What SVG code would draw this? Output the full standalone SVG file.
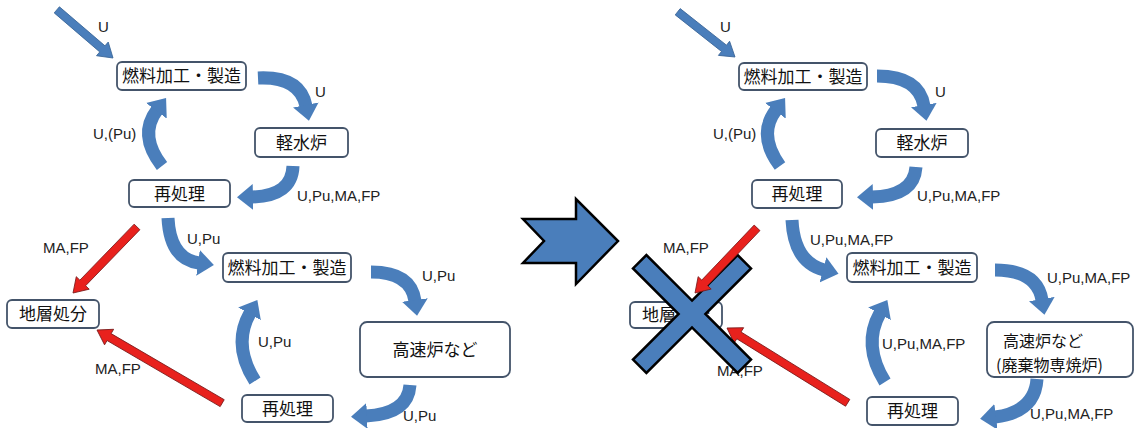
<svg xmlns="http://www.w3.org/2000/svg" width="1135" height="428" viewBox="0 0 1135 428">
<style>
.box{fill:#fff;stroke:#44546a;stroke-width:1.8}
.jt{font-family:"Noto Sans CJK JP","Noto Sans",sans-serif;font-size:17px;fill:#111;text-anchor:middle}
.jl{font-family:"Noto Sans CJK JP","Noto Sans",sans-serif;font-size:16px;fill:#111}
.lb{font-family:"Liberation Sans",Arial,sans-serif;font-size:15px;fill:#222}
.curve{fill:none;stroke:#4a7ebb;stroke-width:13;marker-end:url(#bh)}
.blue{fill:#4a7ebb;stroke:#3a6597;stroke-width:0.8}
.red{fill:#e8211d;stroke:#7a1a1a;stroke-width:0.8}
.shape{fill:#4a7ebb;stroke:#000;stroke-width:2.5;stroke-linejoin:miter}
</style>
<defs>
<marker id="bh" markerUnits="userSpaceOnUse" viewBox="0 0 16 26" markerWidth="16" markerHeight="26" refX="1" refY="13" orient="auto">
<path d="M0 0 L16 13 L0 26 Z" fill="#4a7ebb"/>
</marker>
</defs>
<rect width="1135" height="428" fill="#fff"/>

<g id="connectors">
<g transform="translate(113 58) rotate(40.6)"><polygon class="blue" points="-74,-4 -14,-4 -14,-9 0,0 -14,9 -14,4 -74,4"/></g>
<path class="curve" d="M258 78 Q300 76 306 106"/>
<path class="curve" d="M293 166 Q292 196 252 197"/>
<path class="curve" d="M162 166 Q138 135 157 110"/>
<path class="curve" d="M168 218 Q170 259 199 263"/>
<path class="curve" d="M371 272 Q411 272 415 301"/>
<path class="curve" d="M410 385 Q408 414 366 416"/>
<path class="curve" d="M255 381 Q232 345 250 313"/>
<g transform="translate(73 293) rotate(134.1)"><polygon class="red" points="-92,-4 -14,-4 -14,-9 0,0 -14,9 -14,4 -92,4"/></g>
<g transform="translate(97 330) rotate(-149.7)"><polygon class="red" points="-145,-4 -14,-4 -14,-9 0,0 -14,9 -14,4 -145,4"/></g>
<g transform="translate(735 57) rotate(38.3)"><polygon class="blue" points="-73,-4 -14,-4 -14,-9 0,0 -14,9 -14,4 -73,4"/></g>
<path class="curve" d="M877 76 Q919 76 924 106"/>
<path class="curve" d="M916 167 Q914 196 872 197"/>
<path class="curve" d="M780 166 Q757 135 776 110"/>
<path class="curve" d="M792 220 Q794 262 824 270"/>
<path class="curve" d="M995 270 Q1037 270 1042 300"/>
<path class="curve" d="M1037 379 Q1035 412 995 417"/>
<path class="curve" d="M885 382 Q862 345 880 313"/>
<g transform="translate(727 328) rotate(-148.2)"><polygon class="red" points="-142,-4 -14,-4 -14,-9 0,0 -14,9 -14,4 -142,4"/></g>
</g>

<g id="labels">
<text class="lb" x="98" y="32">U</text>
<text class="lb" x="315" y="97">U</text>
<text class="lb" x="93" y="139">U,(Pu)</text>
<text class="lb" x="297" y="201">U,Pu,MA,FP</text>
<text class="lb" x="43" y="253">MA,FP</text>
<text class="lb" x="187" y="244">U,Pu</text>
<text class="lb" x="422" y="281">U,Pu</text>
<text class="lb" x="258" y="347">U,Pu</text>
<text class="lb" x="95" y="374">MA,FP</text>
<text class="lb" x="403" y="421">U,Pu</text>

<text class="lb" x="720" y="32">U</text>
<text class="lb" x="935" y="97">U</text>
<text class="lb" x="713" y="139">U,(Pu)</text>
<text class="lb" x="917" y="201">U,Pu,MA,FP</text>
<text class="lb" x="810" y="245">U,Pu,MA,FP</text>
<text class="lb" x="1047" y="283">U,Pu,MA,FP</text>
<text class="lb" x="882" y="349">U,Pu,MA,FP</text>
<text class="lb" x="1030" y="419">U,Pu,MA,FP</text>
<text class="lb" x="663" y="253">MA,FP</text>
<text class="lb" x="717" y="376">MA,FP</text>
</g>

<g id="fuel1-l"><rect class="box" x="117" y="62" width="129" height="28" rx="5"/><text class="jt" x="181.5" y="82">燃料加工・製造</text></g>
<g id="lwr-l"><rect class="box" x="255" y="128" width="93" height="29" rx="5"/><text class="jt" x="301.5" y="149">軽水炉</text></g>
<g id="repro1-l"><rect class="box" x="129" y="180" width="101" height="27" rx="5"/><text class="jt" x="179.5" y="200">再処理</text></g>
<g id="disposal-l"><rect class="box" x="7" y="300" width="92" height="28" rx="5"/><text class="jt" x="53" y="320">地層処分</text></g>
<g id="fuel2-l"><rect class="box" x="223" y="253" width="128" height="29" rx="5"/><text class="jt" x="287" y="274">燃料加工・製造</text></g>
<g id="fbr-l"><rect class="box" x="360" y="322" width="150" height="55" rx="7"/><text class="jt" x="435" y="356">高速炉など</text></g>
<g id="repro2-l"><rect class="box" x="242" y="395" width="91" height="27" rx="5"/><text class="jt" x="287.5" y="415">再処理</text></g>

<g id="fuel1-r"><rect class="box" x="739" y="63" width="128" height="27" rx="5"/><text class="jt" x="803" y="83">燃料加工・製造</text></g>
<g id="lwr-r"><rect class="box" x="876" y="129" width="92" height="28" rx="5"/><text class="jt" x="922" y="149">軽水炉</text></g>
<g id="repro1-r"><rect class="box" x="752" y="180" width="90" height="28" rx="5"/><text class="jt" x="797" y="200">再処理</text></g>
<g id="disposal-r"><rect class="box" x="630" y="302" width="92" height="26" rx="5"/><text class="jt" x="676" y="321">地層処分</text></g>
<g id="fuel2-r"><rect class="box" x="847" y="253" width="130" height="29" rx="5"/><text class="jt" x="912" y="274">燃料加工・製造</text></g>
<g id="fbr-r"><rect class="box" x="987" y="322" width="146" height="55" rx="7"/><text class="jl" x="1003" y="347">高速炉など</text><text class="jl" x="996" y="371">(廃棄物専焼炉)</text></g>
<g id="repro2-r"><rect class="box" x="867" y="397" width="91" height="28" rx="5"/><text class="jt" x="912.5" y="417">再処理</text></g>

<g id="transition-arrow"><polygon class="shape" points="523,219 576,219 576,199 618,241 576,284 576,263 523,263 544,241"/></g>
<g id="cross"><polygon class="shape" points="692,300.6 737.6,255 751,268.4 705.4,314 751,359.6 737.6,373 692,327.4 646.4,373 633,359.6 678.6,314 633,268.4 646.4,255"/></g>

<g id="connectors-top">
<g transform="translate(695 293) rotate(133.6)"><polygon class="red" points="-90,-4 -14,-4 -14,-9 0,0 -14,9 -14,4 -90,4"/></g>
</g>
</svg>
